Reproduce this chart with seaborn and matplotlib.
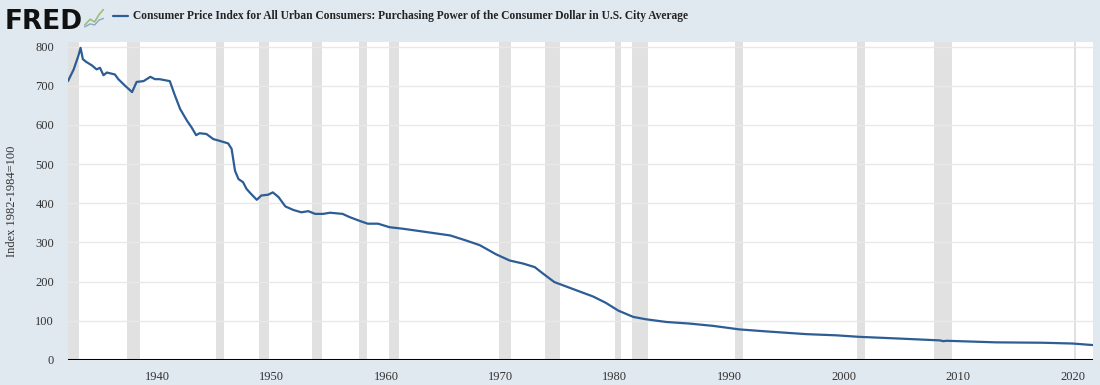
import matplotlib
matplotlib.use("Agg")
import matplotlib.pyplot as plt
import seaborn as sns
import pandas as pd
from matplotlib.lines import Line2D

# purchasing power of the consumer dollar
years = [1932.2, 1932.7, 1933.1, 1933.3, 1933.5, 1933.8, 1934.3, 1934.7, 1935.0, 1935.3,
         1935.6, 1936.3, 1936.6, 1937.2, 1937.8, 1938.2, 1938.8, 1939.4, 1939.8, 1940.2,
         1941.1, 1941.5, 1942.0, 1942.6, 1943.0, 1943.4, 1943.7, 1944.3, 1944.9, 1945.4,
         1946.2, 1946.5, 1946.8, 1947.1, 1947.5, 1947.8, 1948.2, 1948.7, 1949.1, 1949.7,
         1950.1, 1950.6, 1951.2, 1951.9, 1952.6, 1953.2, 1953.8, 1954.5, 1955.1, 1956.2,
         1956.8, 1957.8, 1958.4, 1959.3, 1960.3, 1961.5, 1963.2, 1965.6, 1967.0, 1968.2,
         1969.6, 1970.8, 1972.0, 1973.0, 1973.7, 1974.7, 1975.8, 1976.9, 1978.1, 1979.2,
         1980.3, 1981.6, 1982.7, 1984.5, 1986.5, 1988.6, 1990.9, 1993.2, 1996.7, 1999.3,
         2001.4, 2004.6, 2008.4, 2008.7, 2009.0, 2013.3, 2017.4, 2020.0, 2021.8]
values = [712, 742, 776, 797, 768, 761, 752, 742, 746, 727,
          734, 729, 717, 700, 684, 710, 712, 723, 717, 717,
          712, 679, 641, 611, 594, 574, 579, 577, 564, 560,
          553, 539, 483, 462, 454, 437, 424, 409, 420, 422,
          428, 416, 392, 383, 377, 380, 373, 373, 376, 373,
          365, 354, 348, 348, 339, 335, 328, 318, 305, 293,
          270, 254, 246, 237, 221, 199, 187, 175, 162, 146,
          126, 110, 104, 97, 93, 87, 78, 73, 66, 63,
          59, 55, 50, 48, 49, 45, 44, 42, 38]

# NBER recessions (start, end) in decimal years
rec_start = [1929.6, 1937.4, 1945.1, 1948.9, 1953.5, 1957.6, 1960.3, 1969.9, 1973.9,
             1980.0, 1981.5, 1990.5, 2001.2, 2007.9, 2020.1]
rec_end = [1933.2, 1938.5, 1945.8, 1949.8, 1954.4, 1958.3, 1961.1, 1970.9, 1975.2,
           1980.5, 1982.9, 1991.2, 2001.9, 2009.5, 2020.3]

df = pd.DataFrame({"year": years, "value": values})

sns.set_style("white")
plt.rcParams["font.family"] = ["Liberation Serif", "DejaVu Serif"]

bg = "#e1e9f0"
blue = "#2c5d95"

fig = plt.figure(figsize=(11, 3.85), dpi=100, facecolor=bg)
ax = fig.add_axes([0.0618, 0.065, 0.932, 0.826])
ax.set_facecolor("white")

for s, e in zip(rec_start, rec_end):
    ax.axvspan(s, e, color="#e1e1e1", lw=0, zorder=0)

ax.set_yticks(range(0, 900, 100))
for t in range(100, 900, 100):
    ax.axhline(t, color="#e8e8e8", lw=1, zorder=0.5)

sns.lineplot(data=df, x="year", y="value", ax=ax, color=blue, lw=1.6, zorder=3)
ax.axhline(0, color="black", lw=2.2, zorder=4)

ax.set_xlim(1932.2, 2021.8)
ax.set_ylim(0, 812)
ax.set_xticks(range(1940, 2030, 10))

for sp in ax.spines.values():
    sp.set_visible(False)

ax.tick_params(axis="y", length=0, pad=10, labelsize=9, labelcolor="#333333")
ax.tick_params(axis="x", length=5, width=0.8, color="#d0d0d0", pad=3,
               labelsize=9, labelcolor="#333333", direction="out")
ax.set_xlabel("")
ax.set_ylabel("Index 1982-1984=100", fontsize=9, color="#333333")
ax.yaxis.set_label_coords(-0.049, 0.5)

# header: logo and title
fig.text(0.004, 0.925, "FRED", fontsize=19, fontweight="heavy", family="DejaVu Sans",
         color="#111111", va="baseline")
fig.add_artist(Line2D([0.077, 0.082, 0.086, 0.090, 0.094], [0.935, 0.950, 0.943, 0.962, 0.975],
                      color="#9bbf7a", lw=1.2, transform=fig.transFigure))
fig.add_artist(Line2D([0.077, 0.082, 0.086, 0.090, 0.094], [0.930, 0.938, 0.935, 0.948, 0.952],
                      color="#8aa8c4", lw=1.0, transform=fig.transFigure))
fig.add_artist(Line2D([0.103, 0.116], [0.958, 0.958], color=blue, lw=1.6,
                      transform=fig.transFigure))
fig.text(0.121, 0.958,
         "Consumer Price Index for All Urban Consumers: Purchasing Power of the Consumer Dollar in U.S. City Average",
         fontsize=8.3, fontweight="bold", color="#222222", va="center")

plt.savefig("out.png", dpi=100, facecolor=bg)
